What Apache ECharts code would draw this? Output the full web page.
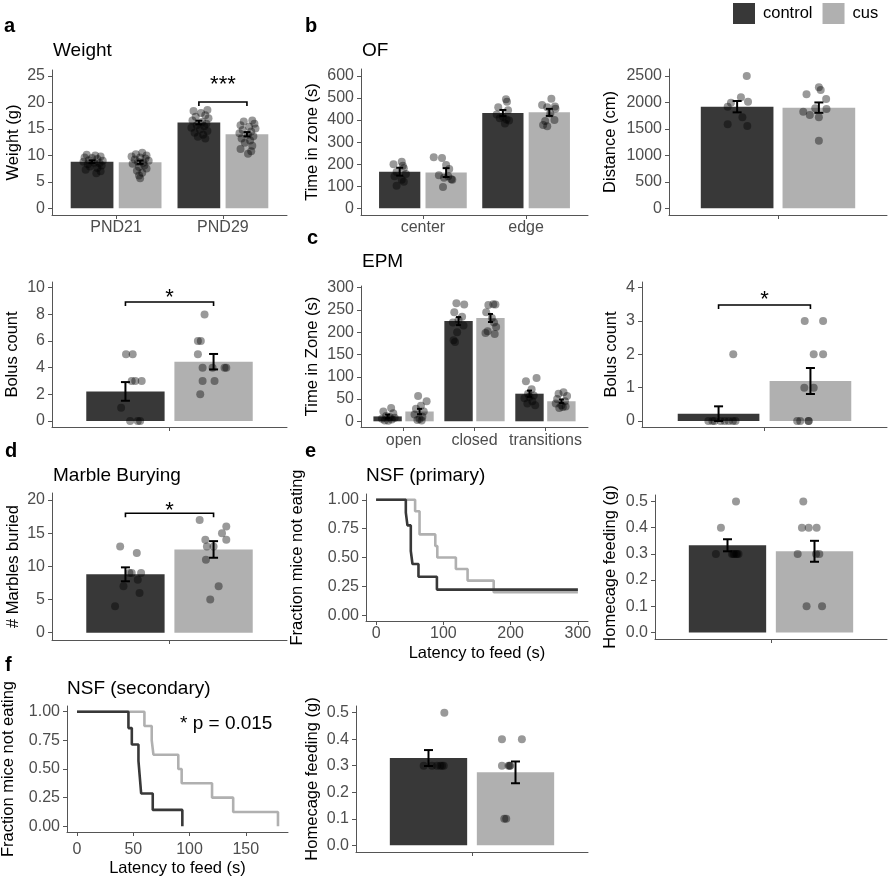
<!DOCTYPE html>
<html><head><meta charset="utf-8">
<script src="https://cdn.jsdelivr.net/npm/echarts@6/dist/echarts.min.js"></script>
<style>html,body{margin:0;padding:0;background:#fff}#c{width:891px;height:879px}</style>
</head><body><div id="c"></div>
<script>
// ================= DATA =================
const groupNames = ['control', 'cus'];

// a: Weight
const weightCats = ['PND21', 'PND29'];
const weightTicks = [0, 5, 10, 15, 20, 25];
const weightMeanControl = [8.8, 16.2];
const weightMeanCus = [8.7, 14.0];
const weightSemControl = [0.25, 0.35];
const weightSemCus = [0.3, 0.4];
// [category, value, jitter]
const weightPtsControl = [
  [1,10.1,-0.05],[1,10.0,0.03],[1,9.8,0.08],[1,9.6,-0.07],[1,9.5,0.0],[1,9.3,0.05],[1,9.1,-0.03],[1,9.0,0.1],[1,8.8,-0.08],
  [1,8.6,0.02],[1,8.5,0.07],[1,8.3,-0.04],[1,8.1,0.09],[1,7.9,-0.02],[1,7.6,0.05],[1,7.3,-0.06],[1,7.0,0.08],[1,6.6,0.04],
  [2,18.6,0.08],[2,18.4,-0.05],[2,18.0,0.02],[2,17.6,0.06],[2,17.3,-0.03],[2,17.0,0.09],[2,16.6,-0.06],[2,16.3,0.03],[2,16.0,0.07],
  [2,15.7,-0.02],[2,15.5,0.05],[2,15.2,-0.07],[2,14.9,0.01],[2,14.6,0.08],[2,14.3,-0.04],[2,13.9,0.04],[2,13.5,-0.01],[2,13.2,0.06]
];
const weightPtsCus = [
  [1,10.5,0.02],[1,10.2,-0.04],[1,10.0,0.06],[1,9.8,-0.08],[1,9.6,0.0],[1,9.4,0.05],[1,9.2,-0.05],[1,9.0,0.08],[1,8.8,-0.02],
  [1,8.6,0.03],[1,8.4,-0.07],[1,8.1,0.04],[1,7.8,-0.01],[1,7.5,0.06],[1,7.1,-0.03],[1,6.7,0.02],[1,6.2,-0.01],[1,5.7,0.0],
  [2,16.6,0.05],[2,16.4,-0.03],[2,16.0,0.07],[2,15.7,-0.06],[2,15.4,0.02],[2,15.1,0.08],[2,14.8,-0.04],[2,14.5,0.04],[2,14.2,-0.07],
  [2,13.9,0.01],[2,13.6,0.06],[2,13.2,-0.05],[2,12.8,0.03],[2,12.4,-0.02],[2,11.8,0.05],[2,11.2,-0.06],[2,10.8,0.04],[2,10.3,0.01]
];
// [category, bracket y, label y, label]
const weightSig = [[2, 20.1, 23.3, '***']];

// b: Open field time in zone
const ofCats = ['center', 'edge'];
const ofTicks = [0, 100, 200, 300, 400, 500, 600];
const ofMeanControl = [166, 432];
const ofMeanCus = [162, 435];
const ofSemControl = [18, 14];
const ofSemCus = [20, 16];
const ofPtsControl = [
  [1,211,0.02],[1,200,-0.06],[1,193,0.03],[1,182,0.04],[1,165,-0.03],[1,155,0.06],[1,145,-0.05],[1,130,0.02],[1,120,0.04],[1,102,-0.03],
  [2,495,0.03],[2,483,0.04],[2,458,-0.045],[2,445,0.05],[2,425,-0.06],[2,415,0.0],[2,408,-0.03],[2,403,0.035],[2,398,0.06],[2,385,0.02]
];
const ofPtsCus = [
  [1,232,-0.12],[1,228,-0.04],[1,196,0.0],[1,178,0.03],[1,150,-0.07],[1,145,0.02],[1,138,-0.02],[1,132,0.05],[1,130,0.06],[1,97,-0.03],
  [2,497,0.02],[2,468,-0.07],[2,462,0.055],[2,458,-0.02],[2,452,0.06],[2,430,0.01],[2,400,0.05],[2,396,-0.04],[2,378,-0.06],[2,372,-0.02]
];

// b: Distance
const distCats = [''];
const distTicks = [0, 500, 1000, 1500, 2000, 2500];
const distMeanControl = [1920];
const distMeanCus = [1902];
const distSemControl = [107];
const distSemCus = [98];
const distPtsControl = [[1,2500,0.053],[1,2097,0.021],[1,2015,0.06],[1,1996,-0.034],[1,1920,-0.052],[1,1719,0.029],[1,1587,-0.052],[1,1555,0.056]];
const distPtsCus = [[1,2286,0.0],[1,2235,0.01],[1,2154,-0.068],[1,2066,0.04],[1,1877,0.042],[1,1826,-0.086],[1,1763,-0.05],[1,1719,0.0],[1,1278,0.0],[1,1889,-0.02]];

// a: Bolus count
const bolusACats = [''];
const bolusATicks = [0, 2, 4, 6, 8, 10];
const bolusAMeanControl = [2.22];
const bolusAMeanCus = [4.45];
const bolusASemControl = [0.7];
const bolusASemCus = [0.58];
const bolusAPtsControl = [[1,5,0.003],[1,5,0.037],[1,3,0.032],[1,3,0.083],[1,3,0.05],[1,1,-0.022],[1,0,0.024],[1,0,0.063],[1,0,0.075]];
const bolusAPtsCus = [[1,8,-0.046],[1,6,-0.08],[1,6,-0.065],[1,5,-0.08],[1,4,-0.056],[1,4,-0.005],[1,4,0.056],[1,4,0.065],[1,3,-0.056],[1,3,0.005],[1,2,-0.068]];
const bolusASig = [[1, 8.93, 9.2, '*']];

// c: EPM
const epmCats = ['open', 'closed', 'transitions'];
const epmTicks = [0, 50, 100, 150, 200, 250, 300];
const epmMeanControl = [11, 225, 62];
const epmMeanCus = [22, 232, 45];
const epmSemControl = [4, 9, 7];
const epmSemCus = [6, 9, 4];
const epmPtsControl = [
  [1,30,0.05],[1,22,-0.06],[1,18,0.08],[1,12,-0.02],[1,9,0.03],[1,6,-0.08],[1,4,0.06],[1,2,-0.04],[1,1,0.01],[1,8,0.1],
  [2,265,-0.03],[2,262,0.08],[2,245,-0.06],[2,235,0.05],[2,228,0.0],[2,222,-0.08],[2,215,0.07],[2,200,-0.02],[2,182,-0.07],[2,178,-0.05],
  [3,97,0.1],[3,90,-0.05],[3,72,0.03],[3,62,-0.02],[3,58,0.06],[3,52,-0.07],[3,45,0.04],[3,40,-0.03],[3,36,0.08],[3,55,0.0]
];
const epmPtsCus = [
  [1,57,-0.02],[1,45,0.1],[1,35,0.02],[1,28,-0.05],[1,22,0.06],[1,15,-0.07],[1,10,0.04],[1,5,0.0],[1,2,0.03],[1,3,-0.03],
  [2,263,0.04],[2,262,0.07],[2,261,-0.03],[2,245,-0.06],[2,232,0.02],[2,222,0.05],[2,212,0.08],[2,202,-0.04],[2,198,-0.07],[2,196,0.06],
  [3,65,0.03],[3,62,-0.04],[3,57,0.08],[3,50,-0.06],[3,45,0.05],[3,40,-0.08],[3,36,0.0],[3,33,0.06],[3,30,-0.03],[3,32,0.02]
];

// c: EPM bolus count
const bolusCCats = [''];
const bolusCTicks = [0, 1, 2, 3, 4];
const bolusCMeanControl = [0.22];
const bolusCMeanCus = [1.2];
const bolusCSemControl = [0.22];
const bolusCSemCus = [0.39];
const bolusCPtsControl = [[1,0,-0.05],[1,0,-0.02],[1,0,0.01],[1,0,0.03],[1,0,0.05],[1,0,0.07],[1,0,0.083],[1,0,-0.03],[1,2,0.072]];
const bolusCPtsCus = [[1,3,-0.028],[1,3,0.062],[1,2,0.016],[1,2,0.062],[1,1,-0.03],[1,1,0.016],[1,0,-0.065],[1,0,-0.008],[1,0,-0.05],[1,0,-0.01]];
const bolusCSig = [[1, 3.48, 3.63, '*']];

// d: Marble burying
const marbleCats = [''];
const marbleTicks = [0, 5, 10, 15, 20];
const marbleMeanControl = [8.8];
const marbleMeanCus = [12.55];
const marbleSemControl = [1.05];
const marbleSemCus = [1.25];
const marblePtsControl = [[1,13,-0.027],[1,12,0.058],[1,9,0.032],[1,9,0.08],[1,9,0.02],[1,8,0.063],[1,7,-0.01],[1,6,0.072],[1,4,-0.053]];
const marblePtsCus = [[1,17,-0.071],[1,16,0.065],[1,15,0.043],[1,14,-0.042],[1,14,0.065],[1,13,-0.034],[1,13,0.0],[1,11,-0.039],[1,7,0.026],[1,5,-0.017]];
const marbleSig = [[1, 18.0, 18.35, '*']];

// e: NSF primary (Kaplan-Meier steps: [time, fraction])
const nsfTicksX1 = [0, 100, 200, 300];
const nsfTicksY = [0, 0.25, 0.5, 0.75, 1];
const nsf1Control = [[0,1],[44.2,0.889],[46.6,0.778],[51.6,0.556],[54.1,0.444],[63,0.333],[90.4,0.222],[300,0.222]];
const nsf1Cus = [[0,1],[58,0.9],[64.6,0.7],[88,0.6],[91,0.5],[118.6,0.4],[136,0.3],[174.8,0.2],[300,0.2]];

// e: Homecage feeding
const homeTicks = [0, 0.1, 0.2, 0.3, 0.4, 0.5];
const home1MeanControl = [0.333];
const home1MeanCus = [0.31];
const home1SemControl = [0.023];
const home1SemCus = [0.04];
const home1PtsControl = [[1,0.5,0.044],[1,0.4,-0.034],[1,0.3,-0.06],[1,0.3,0.023],[1,0.3,0.035],[1,0.3,0.057],[1,0.3,0.045],[1,0.3,0.03],[1,0.3,0.05]];
const home1PtsCus = [[1,0.5,-0.058],[1,0.4,-0.065],[1,0.4,-0.03],[1,0.4,0.011],[1,0.3,-0.087],[1,0.3,0.008],[1,0.3,0.025],[1,0.1,-0.041],[1,0.1,0.039]];

// f: NSF secondary
const nsfTicksX2 = [0, 50, 100, 150];
const nsf2Control = [[0,1],[45.7,0.857],[48.7,0.714],[54.6,0.571],[55.8,0.429],[57,0.286],[67.3,0.143],[93.6,0]];
const nsf2Cus = [[0,1],[59.9,0.875],[66.4,0.75],[67.9,0.625],[90,0.5],[93,0.375],[120,0.25],[138.8,0.125],[178.6,0]];
const nsf2PText = '* p = 0.015';

// f: Homecage feeding
const home2MeanControl = [0.329];
const home2MeanCus = [0.275];
const home2SemControl = [0.03];
const home2SemCus = [0.041];
const home2PtsControl = [[1,0.5,0.082],[1,0.3,-0.025],[1,0.3,0.018],[1,0.3,0.061],[1,0.3,0.079],[1,0.3,0.044],[1,0.3,0.07]];
const home2PtsCus = [[1,0.4,-0.07],[1,0.4,0.033],[1,0.3,-0.07],[1,0.3,-0.036],[1,0.3,-0.027],[1,0.3,-0.03],[1,0.1,-0.058],[1,0.1,-0.048]];

// ================= STYLE / BUILD =================
const FONT = "'Liberation Sans', Arial, Helvetica, sans-serif";
const C_CTRL = '#383838', C_CUS = '#b0b0b0';
const AXC = '#555555', LABC = '#4d4d4d';
const DODGE = 0.225, BARW = 0.4;

const grids = [], xAxes = [], yAxes = [], series = [];

function axisBase() {
  return {
    axisLine: {show: true, onZero: false, lineStyle: {color: AXC, width: 1}},
    splitLine: {show: false},
    nameMoveOverlap: false,
  };
}
function addGrid(g) { grids.push(Object.assign({containLabel: false, outerBoundsMode: 'none'}, g)); return grids.length - 1; }

function addYAxis(gi, min, max, ticks, fmt, name, nameGap) {
  yAxes.push(Object.assign(axisBase(), {
    type: 'value', gridIndex: gi, min, max,
    axisTick: {show: true, length: 4, customValues: ticks, lineStyle: {color: AXC}},
    axisLabel: {show: true, customValues: ticks, margin: 7, color: LABC, fontSize: 16, fontFamily: FONT,
      formatter: fmt || (v => String(v))},
    name, nameLocation: 'middle', nameGap, nameRotate: 90,
    nameTextStyle: {color: '#000', fontSize: 16.5, fontFamily: FONT}
  }));
}
function addXAxis(gi, min, max, ticks, fmt, margin, name, nameGap) {
  xAxes.push(Object.assign(axisBase(), {
    type: 'value', gridIndex: gi, min, max, position: 'bottom',
    axisTick: {show: true, length: 4, customValues: ticks, lineStyle: {color: AXC}},
    axisLabel: {show: true, customValues: ticks, margin, color: LABC, fontSize: 16, fontFamily: FONT, formatter: fmt},
    name: name || '', nameLocation: 'middle', nameGap: nameGap || 0,
    nameTextStyle: {color: '#000', fontSize: 16.5, fontFamily: FONT}
  }));
}

function barSeries(gi, name, means, color, dodge) {
  return {
    type: 'custom', name, xAxisIndex: gi, yAxisIndex: gi, z: 1, silent: true,
    itemStyle: {color},
    data: means.map((m, i) => [i + 1, m]),
    renderItem(params, api) {
      const x = api.value(0) + dodge;
      const p0 = api.coord([x - BARW / 2, api.value(1)]);
      const p1 = api.coord([x + BARW / 2, 0]);
      return {type: 'rect', shape: {x: p0[0], y: p0[1], width: p1[0] - p0[0], height: p1[1] - p0[1]}, style: {fill: color}};
    }
  };
}
function errSeries(gi, means, sems, dodge, cap) {
  return {
    type: 'custom', xAxisIndex: gi, yAxisIndex: gi, z: 4, silent: true,
    data: means.map((m, i) => [i + 1 + dodge, m, sems[i]]),
    encode: {x: 0, y: 1},
    renderItem(params, api) {
      const x = api.value(0), m = api.value(1), s = api.value(2);
      const t = api.coord([x, m + s]), b = api.coord([x, m - s]);
      const st = {stroke: '#000', lineWidth: 2};
      return {type: 'group', children: [
        {type: 'line', shape: {x1: t[0], y1: t[1], x2: b[0], y2: b[1]}, style: st},
        {type: 'line', shape: {x1: t[0] - cap, y1: t[1], x2: t[0] + cap, y2: t[1]}, style: st},
        {type: 'line', shape: {x1: b[0] - cap, y1: b[1], x2: b[0] + cap, y2: b[1]}, style: st}
      ]};
    }
  };
}
function ptSeries(gi, pts, dodge) {
  return {
    type: 'scatter', xAxisIndex: gi, yAxisIndex: gi, z: 3, silent: true,
    symbol: 'circle', symbolSize: 8,
    itemStyle: {color: 'rgba(0,0,0,0.5)', borderWidth: 0},
    data: pts.map(p => [p[0] + dodge + p[2], p[1]])
  };
}
function sigSeries(gi, sig, tickPx, fs) {
  return {
    type: 'custom', xAxisIndex: gi, yAxisIndex: gi, z: 5, silent: true,
    data: sig.map(s => [s[0] - DODGE, s[0] + DODGE, s[1], s[2]]),
    renderItem(params, api) {
      const i = params.dataIndex;
      const a = api.coord([api.value(0), api.value(2)]);
      const b = api.coord([api.value(1), api.value(2)]);
      const tp = api.coord([(api.value(0) + api.value(1)) / 2, api.value(3)]);
      const st = {stroke: '#000', lineWidth: 1.6};
      return {type: 'group', children: [
        {type: 'polyline', shape: {points: [[a[0], a[1] + tickPx], a, b, [b[0], b[1] + tickPx]]}, style: Object.assign({fill: 'none'}, st)},
        {type: 'text', x: tp[0], y: tp[1], style: {text: sig[i][3], fill: '#000', fontSize: fs, fontFamily: FONT, align: 'center', verticalAlign: 'middle'}}
      ]};
    }
  };
}
function catFmt(cats) { return v => cats[Math.round(v) - 1] || ''; }
function rangeTicks(n) { return Array.from({length: n}, (_, i) => i + 1); }

function barPanel(g, cats, ticks, ymin, ymax, yfmt, yname, yGap, xMargin, mc, mu, sc, su, pc, pu, cap, sig) {
  const gi = addGrid(g);
  const n = cats.length;
  addXAxis(gi, 0.4, n + 0.6, rangeTicks(n), catFmt(cats), xMargin);
  addYAxis(gi, ymin, ymax, ticks, yfmt, yname, yGap);
  series.push(barSeries(gi, groupNames[0], mc, C_CTRL, -DODGE));
  series.push(barSeries(gi, groupNames[1], mu, C_CUS, DODGE));
  series.push(ptSeries(gi, pc, -DODGE));
  series.push(ptSeries(gi, pu, DODGE));
  series.push(errSeries(gi, mc, sc, -DODGE, cap));
  series.push(errSeries(gi, mu, su, DODGE, cap));
  if (sig) series.push(sigSeries(gi, sig, 4, 22));
}
function kmPanel(g, xmin, xmax, xticks, c, u, yname, yGap, xMargin, xGap) {
  const gi = addGrid(g);
  addXAxis(gi, xmin, xmax, xticks, v => String(v), xMargin, 'Latency to feed (s)', xGap);
  addYAxis(gi, -0.05, 1.05, nsfTicksY, v => v.toFixed(2), yname, yGap);
  [[u, C_CUS], [c, C_CTRL]].forEach(([d, col]) => series.push({
    type: 'line', xAxisIndex: gi, yAxisIndex: gi, step: 'end', showSymbol: false, symbol: 'none', silent: true,
    lineStyle: {color: col, width: 2.6}, data: d, z: 2, animation: false
  }));
}

barPanel({left: 52, top: 70, width: 235, height: 145}, weightCats, weightTicks, -1.27, 26.14, null, 'Weight (g)', 30, 5,
  weightMeanControl, weightMeanCus, weightSemControl, weightSemCus, weightPtsControl, weightPtsCus, 3.5, weightSig);
barPanel({left: 361, top: 69, width: 227, height: 146}, ofCats, ofTicks, -30.4, 631.7, null, 'Time in zone (s)', 40, 5,
  ofMeanControl, ofMeanCus, ofSemControl, ofSemCus, ofPtsControl, ofPtsCus, 3.5, null);
barPanel({left: 669, top: 69, width: 218, height: 146}, distCats, distTicks, -126.6, 2632, null, 'Distance (cm)', 50, 5,
  distMeanControl, distMeanCus, distSemControl, distSemCus, distPtsControl, distPtsCus, 4.5, null);
barPanel({left: 52, top: 282, width: 235, height: 145}, bolusACats, bolusATicks, -0.45, 10.43, null, 'Bolus count', 31, 5,
  bolusAMeanControl, bolusAMeanCus, bolusASemControl, bolusASemCus, bolusAPtsControl, bolusAPtsCus, 4.5, bolusASig);
barPanel({left: 361, top: 286, width: 227, height: 141}, epmCats, epmTicks, -12.8, 303.8, null, 'Time in Zone (s)', 40, 6,
  epmMeanControl, epmMeanCus, epmSemControl, epmSemCus, epmPtsControl, epmPtsCus, 2.5, null);
barPanel({left: 642, top: 282, width: 245, height: 145}, bolusCCats, bolusCTicks, -0.18, 4.17, null, 'Bolus count', 22, 5,
  bolusCMeanControl, bolusCMeanCus, bolusCSemControl, bolusCSemCus, bolusCPtsControl, bolusCPtsCus, 4.5, bolusCSig);
barPanel({left: 52, top: 493, width: 235, height: 147}, marbleCats, marbleTicks, -1.1, 21.06, null, '# Marbles buried', 30.5, 5,
  marbleMeanControl, marbleMeanCus, marbleSemControl, marbleSemCus, marblePtsControl, marblePtsCus, 4.5, marbleSig);
kmPanel({left: 366, top: 494, width: 222, height: 127}, -15, 315, nsfTicksX1, nsf1Control, nsf1Cus, 'Fraction mice not eating', 60, 5, 24);
barPanel({left: 655, top: 495, width: 232, height: 144}, [''], homeTicks, -0.025, 0.525, v => v.toFixed(1), 'Homecage feeding (g)', 36.5, 5,
  home1MeanControl, home1MeanCus, home1SemControl, home1SemCus, home1PtsControl, home1PtsCus, 4.5, null);
kmPanel({left: 67, top: 706, width: 221, height: 126}, -8.9, 187.5, nsfTicksX2, nsf2Control, nsf2Cus, 'Fraction mice not eating', 50, 10, 28);
barPanel({left: 356, top: 706, width: 232, height: 146}, [''], homeTicks, -0.025, 0.525, v => v.toFixed(1), 'Homecage feeding (g)', 35.5, 5,
  home2MeanControl, home2MeanCus, home2SemControl, home2SemCus, home2PtsControl, home2PtsCus, 4.5, null);

function ttl(text, left, top, size, bold) {
  return {text, left, top, padding: 0, textStyle: {fontSize: size, fontWeight: bold ? 'bold' : 'normal', color: '#000', fontFamily: FONT}};
}
const titles = [
  ttl('a', 4, 16, 20, true), ttl('b', 305, 16, 20, true), ttl('c', 307, 228, 20, true),
  ttl('d', 5, 441, 20, true), ttl('e', 305, 441, 20, true), ttl('f', 5, 655, 20, true),
  ttl('Weight', 53, 41, 19), ttl('OF', 362, 41, 19), ttl('EPM', 362, 252, 19),
  ttl('Marble Burying', 53, 466, 19), ttl('NSF (primary)', 366, 466, 19), ttl('NSF (secondary)', 67, 679, 19),
  ttl(nsf2PText, 180, 714, 19)
];

const chart = echarts.init(document.getElementById('c'), null, {renderer: 'canvas'});
chart.setOption({
  backgroundColor: '#fff',
  animation: false,
  title: titles,
  legend: {
    left: 733, top: 3, padding: 0, itemWidth: 22, itemHeight: 21, itemGap: 10, icon: 'rect', selectedMode: false,
    data: [{name: 'control', itemStyle: {color: C_CTRL}}, {name: 'cus', itemStyle: {color: C_CUS}}],
    textStyle: {fontSize: 16.5, color: '#000', fontFamily: FONT, padding: [0, 0, 0, 3]}
  },
  grid: grids, xAxis: xAxes, yAxis: yAxes, series
});
</script></body></html>
